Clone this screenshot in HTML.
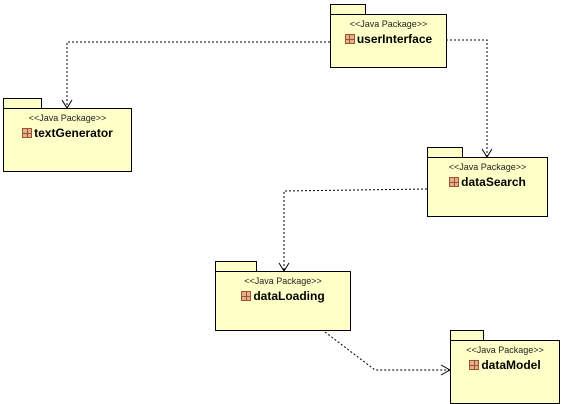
<!DOCTYPE html>
<html><head><style>
html,body{margin:0;padding:0;width:562px;height:404px;overflow:hidden;background:#fff}
#c{position:relative;width:562px;height:404px;overflow:hidden;font-family:"Liberation Sans",Arial,sans-serif}
.t,.b{position:absolute;background:#ffffc8;border:1px solid #000;box-sizing:border-box}
.b{text-align:center}
.s{font-size:9px;color:#222;margin-top:4px}
.n{font-size:12px;font-weight:bold;margin-top:3px;color:#000}
.i{display:inline-block;width:10px;height:10px;background:#e0b090;border:1px solid #a0522d;box-sizing:border-box;vertical-align:-1px;margin-right:2px;background-image:linear-gradient(#a0522d,#a0522d),linear-gradient(#a0522d,#a0522d);background-size:1px 100%,100% 1px;background-position:center;background-repeat:no-repeat}
svg{position:absolute;left:0;top:0}
</style></head><body><div id="c">
<svg width="562" height="404">
<g fill="none" stroke="#000" stroke-dasharray="2,2">
<path d="M330 42H67V107"/><path d="M446 40H487V156"/><path d="M427 189L284 191V270"/><path d="M325 332L375 370H449"/>
</g>
<g fill="none" stroke="#000">
<path d="M62 100L67 108L72 100"/><path d="M482 149L487 157L492 149"/><path d="M279 263L284 271L289 263"/><path d="M441 365L450 370L441 375"/>
</g>
</svg>
<div class="t" style="left:330px;top:4px;width:36px;height:11px"></div>
<div class="b" style="left:330px;top:14px;width:117px;height:54px"><div class="s">&lt;&lt;Java Package&gt;&gt;</div><div class="n"><span class="i"></span>userInterface</div></div>
<div class="t" style="left:3px;top:98px;width:39px;height:11px"></div>
<div class="b" style="left:3px;top:108px;width:129px;height:64px"><div class="s">&lt;&lt;Java Package&gt;&gt;</div><div class="n"><span class="i"></span>textGenerator</div></div>
<div class="t" style="left:427px;top:147px;width:36px;height:11px"></div>
<div class="b" style="left:427px;top:157px;width:121px;height:60px"><div class="s">&lt;&lt;Java Package&gt;&gt;</div><div class="n"><span class="i"></span>dataSearch</div></div>
<div class="t" style="left:215px;top:261px;width:42px;height:11px"></div>
<div class="b" style="left:215px;top:271px;width:136px;height:60px"><div class="s">&lt;&lt;Java Package&gt;&gt;</div><div class="n"><span class="i"></span>dataLoading</div></div>
<div class="t" style="left:450px;top:330px;width:34px;height:11px"></div>
<div class="b" style="left:450px;top:340px;width:110px;height:64px"><div class="s">&lt;&lt;Java Package&gt;&gt;</div><div class="n"><span class="i"></span>dataModel</div></div>
</div></body></html>
